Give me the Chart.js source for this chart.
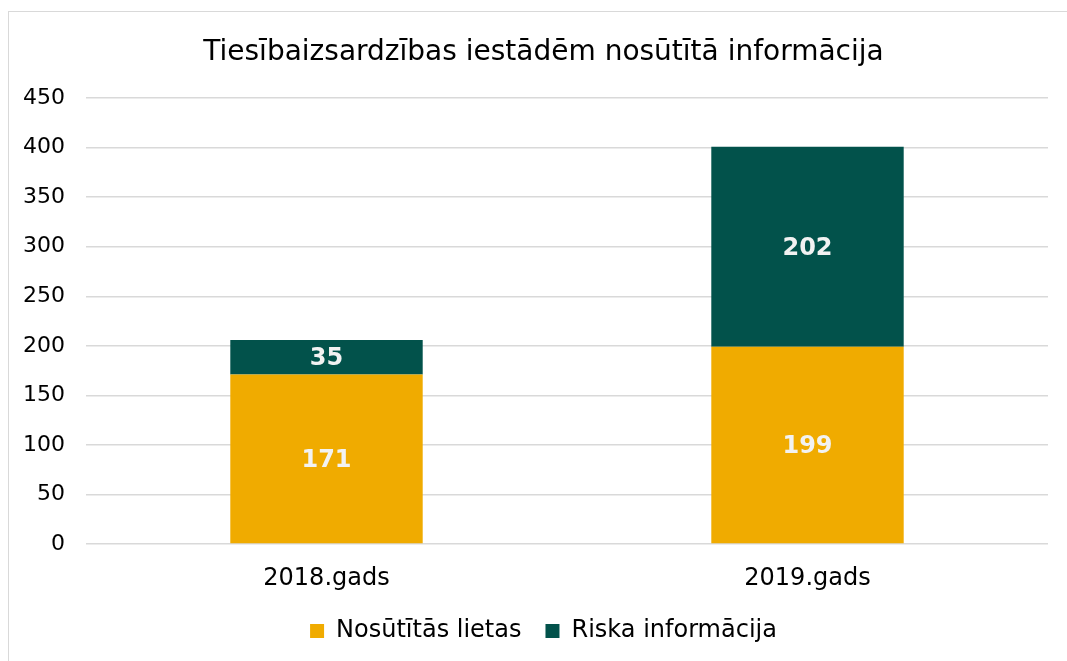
<!DOCTYPE html>
<html><head><meta charset="utf-8">
<script src="https://cdn.jsdelivr.net/npm/chart.js@4"></script>
<style>
html,body{margin:0;padding:0;background:#fff;overflow:hidden;}
#frame{position:absolute;left:8px;top:11px;width:1200px;height:800px;border:1.5px solid #d9d9d9;box-sizing:border-box;}
#wrap{position:absolute;left:0;top:0;width:1067px;height:661px;}
</style></head>
<body>
<div id="frame"></div>
<div id="wrap"><canvas id="c" width="1067" height="661"></canvas></div>
<script>
const categories = ["2018.gads", "2019.gads"];
const sentCases = [171, 199];
const riskInfo = [35, 202];
const seriesNames = ["Nosūtītās lietas", "Riska informācija"];
const titleText = "Tiesībaizsardzības iestādēm nosūtītā informācija";
const yTicks = [0, 50, 100, 150, 200, 250, 300, 350, 400, 450];

const FONT = "'DejaVu Sans', Verdana, sans-serif";

const labelPlugin = {
  id: 'barLabels',
  afterDatasetsDraw(chart) {
    const ctx = chart.ctx;
    ctx.save();
    ctx.fillStyle = '#f2f2f2';
    ctx.font = "bold 24px " + FONT;
    ctx.textAlign = 'center';
    ctx.textBaseline = 'middle';
    chart.data.datasets.forEach((ds, i) => {
      const meta = chart.getDatasetMeta(i);
      meta.data.forEach((bar, j) => {
        const cy = (bar.y + bar.base) / 2;
        ctx.fillText(String(ds.data[j]), bar.x, cy + 2);
      });
    });
    ctx.restore();
  }
};

new Chart(document.getElementById('c'), {
  type: 'bar',
  data: {
    labels: categories,
    datasets: [
      { label: seriesNames[0], data: sentCases, backgroundColor: '#f0ab00', categoryPercentage: 0.8, barPercentage: 0.5 },
      { label: seriesNames[1], data: riskInfo, backgroundColor: '#02524b', categoryPercentage: 0.8, barPercentage: 0.5 }
    ]
  },
  options: {
    responsive: false,
    animation: false,
    devicePixelRatio: 1,
    layout: { padding: { left: 39, right: 19, top: 0, bottom: 8 } },
    plugins: {
      title: {
        display: true, text: titleText, color: '#000',
        font: { family: FONT, size: 28, weight: 'normal' },
        padding: { top: 36, bottom: 28.5 }
      },
      legend: {
        position: 'bottom',
        labels: {
          color: '#000', font: { family: FONT, size: 24 },
          boxWidth: 14, boxHeight: 14, padding: 24
        }
      },
      tooltip: { enabled: false }
    },
    scales: {
      x: {
        stacked: true,
        grid: { display: false, drawTicks: false },
        border: { display: false },
        afterFit(scale) { scale.height = 51; scale._computeLabelArea = () => undefined; },
        ticks: { color: '#000', font: { family: FONT, size: 24 }, padding: 20 }
      },
      y: {
        stacked: true,
        min: 0, max: 450,
        afterBuildTicks(scale) { scale.ticks = yTicks.map(v => ({ value: v })); },
        afterFit(scale) { scale.width = 47; scale._computeLabelArea = () => undefined; },
        grid: { color: '#d9d9d9', lineWidth: 1.5, drawTicks: false },
        border: { display: false },
        ticks: { color: '#000', font: { family: FONT, size: 22 }, padding: 21 }
      }
    }
  },
  plugins: [labelPlugin]
});
</script>
</body></html>
